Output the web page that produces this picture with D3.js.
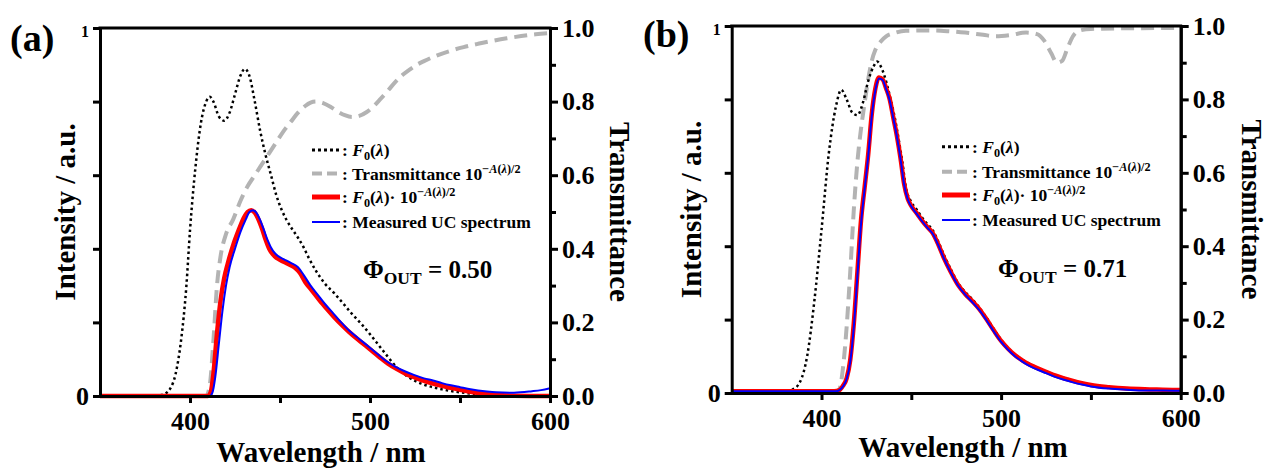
<!DOCTYPE html>
<html>
<head>
<meta charset="utf-8">
<script src="https://cdn.jsdelivr.net/npm/d3@7"></script>
<style>
  body { margin: 0; background: #fff; }
  svg text { font-family: "Liberation Serif", "Times New Roman", serif; font-weight: bold; fill: #000; white-space: pre; }
</style>
</head>
<body>
<div id="chart"></div>
<script>
// ---- data: [wavelength (nm), value] ----
// panel (a)
const f0A = [[350,0],[380,0],[385,0.004],[389,0.02],[392,0.06],[395,0.15],[398,0.3],[400,0.45],[403,0.62],[406,0.74],[409,0.8],[411,0.813],[413,0.8],[416,0.76],[419,0.748],[422,0.77],[425,0.82],[428,0.87],[430.5,0.889],[433,0.87],[436,0.8],[439,0.72],[442,0.655],[445,0.6],[448,0.545],[451,0.505],[454,0.475],[457,0.452],[460,0.43],[463,0.405],[466,0.375],[470,0.34],[475,0.305],[480,0.28],[485,0.252],[490,0.223],[495,0.197],[500,0.168],[505,0.137],[510,0.106],[515,0.077],[520,0.056],[525,0.041],[530,0.031],[540,0.018],[550,0.01],[560,0.005],[570,0.002],[600,0]];
const transA = [[350,0],[409,0],[411,0.03],[413,0.15],[415,0.3],[417,0.38],[420,0.44],[424,0.48],[428,0.53],[432,0.57],[436,0.6],[440,0.63],[444,0.66],[448,0.69],[452,0.72],[456,0.745],[460,0.77],[464,0.788],[467,0.797],[470,0.8],[474,0.796],[478,0.786],[482,0.773],[486,0.763],[490,0.758],[494,0.761],[498,0.771],[502,0.787],[506,0.808],[510,0.83],[514,0.853],[518,0.872],[522,0.887],[526,0.9],[530,0.91],[537,0.925],[544,0.937],[552,0.948],[560,0.957],[568,0.965],[576,0.972],[584,0.978],[592,0.983],[600,0.986]];
const prodA = [[350,0],[410,0],[411.5,0.01],[413,0.06],[415,0.17],[417,0.26],[419,0.32],[421,0.36],[424,0.41],[427,0.45],[430,0.485],[432,0.5],[434,0.505],[436,0.498],[438,0.48],[440,0.455],[442,0.425],[444,0.4],[447,0.38],[450,0.37],[454,0.36],[458,0.35],[461,0.335],[464,0.31],[468,0.285],[472,0.26],[476,0.237],[480,0.215],[485,0.19],[490,0.167],[495,0.147],[500,0.127],[505,0.107],[510,0.088],[515,0.073],[520,0.06],[525,0.05],[530,0.041],[535,0.034],[540,0.028],[545,0.022],[550,0.017],[555,0.012],[560,0.008],[570,0.003],[580,0.001],[600,0]];
const measA = [[350,0],[411,0],[412.5,0.01],[414,0.05],[416,0.14],[418,0.23],[420,0.3],[422,0.35],[425,0.4],[428,0.445],[431,0.48],[433,0.5],[435,0.505],[437,0.497],[439,0.478],[441,0.452],[443,0.425],[446,0.395],[449,0.38],[452,0.372],[456,0.362],[460,0.35],[463,0.33],[467,0.3],[471,0.275],[475,0.25],[479,0.228],[484,0.2],[489,0.175],[494,0.155],[499,0.135],[504,0.115],[509,0.095],[514,0.08],[519,0.068],[524,0.058],[530,0.048],[535,0.042],[540,0.035],[545,0.029],[550,0.024],[555,0.019],[560,0.015],[565,0.012],[570,0.01],[580,0.009],[590,0.013],[595,0.016],[600,0.021]];

// panel (b)
const f0B = [[350,0.005],[380,0.005],[384,0.01],[388,0.03],[392,0.1],[396,0.25],[400,0.444],[404,0.65],[408,0.78],[411,0.826],[414,0.8],[417,0.765],[420,0.757],[423,0.79],[426,0.85],[429,0.89],[431,0.903],[433,0.89],[435,0.865],[437,0.83],[439,0.79],[441,0.745],[443,0.69],[445,0.63],[447,0.56],[450,0.52],[453,0.5],[456,0.478],[459,0.46],[462,0.443],[465,0.413],[468,0.378],[472,0.337],[476,0.3],[480,0.275],[484,0.255],[488,0.232],[492,0.204],[496,0.174],[500,0.145],[504,0.122],[508,0.104],[512,0.09],[516,0.079],[520,0.069],[530,0.049],[540,0.034],[550,0.022],[560,0.016],[570,0.012],[580,0.01],[600,0.008]];
const transB = [[350,0],[408,0],[410,0.01],[412,0.07],[414,0.18],[416,0.33],[418,0.5],[420,0.63],[422,0.72],[424,0.79],[426,0.855],[428,0.905],[430,0.935],[433,0.958],[436,0.972],[440,0.98],[447,0.987],[460,0.988],[470,0.986],[480,0.982],[490,0.976],[497,0.972],[505,0.975],[514,0.982],[520,0.978],[524,0.96],[528,0.925],[531,0.9],[534,0.905],[537,0.94],[540,0.972],[544,0.988],[550,0.992],[600,0.995]];
const prodB = [[350,0.005],[407,0.005],[410,0.008],[412,0.02],[414,0.04],[416,0.09],[418,0.19],[420,0.33],[422,0.47],[424,0.56],[426,0.65],[428,0.76],[430,0.83],[432,0.86],[434,0.855],[436,0.83],[438,0.8],[440,0.75],[442,0.7],[444,0.64],[446,0.57],[448,0.53],[450,0.51],[453,0.49],[456,0.47],[459,0.452],[462,0.435],[465,0.405],[468,0.37],[472,0.33],[476,0.295],[480,0.27],[484,0.25],[488,0.228],[492,0.2],[496,0.17],[500,0.142],[504,0.12],[508,0.102],[512,0.088],[516,0.077],[520,0.068],[525,0.058],[530,0.048],[535,0.04],[540,0.033],[545,0.027],[550,0.022],[560,0.016],[570,0.012],[580,0.01],[590,0.009],[600,0.008]];
const measB = [[350,0.005],[408,0.005],[410,0.008],[412,0.018],[414,0.038],[416,0.085],[418,0.18],[420,0.32],[422,0.46],[424,0.555],[426,0.645],[428,0.755],[430,0.825],[432,0.857],[434,0.853],[436,0.828],[438,0.797],[440,0.748],[442,0.698],[444,0.638],[446,0.568],[448,0.528],[450,0.508],[453,0.488],[456,0.468],[459,0.45],[462,0.433],[465,0.403],[468,0.368],[472,0.328],[476,0.293],[480,0.268],[484,0.247],[488,0.225],[492,0.197],[496,0.167],[500,0.139],[504,0.117],[508,0.099],[512,0.085],[516,0.073],[520,0.064],[525,0.054],[530,0.044],[535,0.036],[540,0.029],[545,0.023],[550,0.018],[560,0.012],[570,0.009],[580,0.007],[590,0.007],[600,0.006]];

// ticks and labels
const xDomain = [350, 600];
const xTicksMajor = [400, 500, 600];
const xTicksMinor = [450, 550];
const leftTicks = [0, 0.2, 0.4, 0.6, 0.8, 1];
const leftLabelled = [0, 1];
const rightTicksMajor = [0, 0.2, 0.4, 0.6, 0.8, 1];
const rightTicksMinor = [0.1, 0.3, 0.5, 0.7, 0.9];
const panelLabels = ["(a)", "(b)"];
const qyValues = ["0.50", "0.71"];

// ---- layout of the two panels ----
const panels = [
  { label: panelLabels[0], qy: qyValues[0], f0: f0A, trans: transA, prod: prodA, meas: measA,
    left: 100, right: 550, top: 28, bottom: 396,
    labelX: 10, labelY: 51, xTitleX: 321, xTitleY: 462, yTitleX: 75, tTitleX: 610,
    legX: 312, legRows: [150, 173.5, 197, 222], qyX: 363, qyY: 278 },
  { label: panelLabels[1], qy: qyValues[1], f0: f0B, trans: transB, prod: prodB, meas: measB,
    left: 731.7, right: 1180.7, top: 26, bottom: 393,
    labelX: 643, labelY: 47, xTitleX: 963, xTitleY: 457, yTitleX: 701, tTitleX: 1242,
    legX: 942, legRows: [146.7, 171.7, 195, 220], qyX: 998, qyY: 277 }
];

const W = 1264, H = 468;
const svg = d3.select("#chart").append("svg").attr("width", W).attr("height", H);

// text with italic / sub / sup pieces
function richText(g, x, y, size, parts) {
  const t = g.append("text").attr("x", x).attr("y", y).style("font-size", size + "px");
  parts.forEach(p => {
    const off = p.sub ? size * 0.25 : p.sup ? -size * 0.38 : 0;
    const s = t.append("tspan").text(p.t)
      .attr("y", y + off)
      .style("font-size", (p.sub || p.sup ? size * 0.7 : size) + "px");
    if (p.it) s.style("font-style", "italic");
  });
  return t;
}

const f0Parts = [{ t: "F", it: 1 }, { t: "0", sub: 1 }, { t: "(" }, { t: "λ", it: 1 }, { t: ")" }];
const supParts = [{ t: "−", sup: 1 }, { t: "A", sup: 1, it: 1 }, { t: "(", sup: 1 }, { t: "λ", sup: 1, it: 1 }, { t: ")/2", sup: 1 }];
const legendItems = [
  { stroke: "#000", width: 3, dash: "3,3", parts: [{ t: ": " }, ...f0Parts] },
  { stroke: "#b3b3b3", width: 4, dash: "10,5", parts: [{ t: ": Transmittance 10" }, ...supParts] },
  { stroke: "#ff0000", width: 5, dash: null, parts: [{ t: ": " }, ...f0Parts, { t: "· 10" }, ...supParts] },
  { stroke: "#0000ff", width: 2, dash: null, parts: [{ t: ": Measured UC spectrum" }] }
];

function styleAxis(sel, fontSize) {
  sel.select(".domain").attr("stroke-width", 3).attr("stroke-linecap", "square");
  sel.selectAll(".tick line").attr("stroke-width", 3);
  sel.selectAll("text").style("font-size", fontSize + "px");
}

panels.forEach(p => {
  const x = d3.scaleLinear().domain(xDomain).range([p.left, p.right]);
  const y = d3.scaleLinear().domain([0, 1]).range([p.bottom, p.top]);
  const yT = d3.scaleLinear().domain([0, 1]).range([p.bottom, p.top]);
  const g = svg.append("g");

  const lineOn = sc => d3.line().x(d => x(d[0])).y(d => sc(d[1])).curve(d3.curveMonotoneX);

  // curves
  g.append("path").datum(p.trans).attr("d", lineOn(yT)).attr("fill", "none")
    .attr("stroke", "#b3b3b3").attr("stroke-width", 4).attr("stroke-dasharray", "13,7");
  g.append("path").datum(p.f0).attr("d", lineOn(y)).attr("fill", "none")
    .attr("stroke", "#000").attr("stroke-width", 2.5).attr("stroke-dasharray", "2.5,3");
  g.append("path").datum(p.prod).attr("d", lineOn(y)).attr("fill", "none")
    .attr("stroke", "#ff0000").attr("stroke-width", 4.5).attr("stroke-linejoin", "round");
  g.append("path").datum(p.meas).attr("d", lineOn(y)).attr("fill", "none")
    .attr("stroke", "#0000ff").attr("stroke-width", 2).attr("stroke-linejoin", "round");

  // top frame
  g.append("line").attr("x1", p.left).attr("x2", p.right).attr("y1", p.top).attr("y2", p.top)
    .attr("stroke", "#000").attr("stroke-width", 3).attr("stroke-linecap", "square");

  // bottom axis
  g.append("g").attr("transform", `translate(0,${p.bottom})`)
    .call(d3.axisBottom(x).tickValues(xTicksMinor).tickSize(7).tickSizeOuter(0).tickFormat(""))
    .call(s => styleAxis(s, 26));
  g.append("g").attr("transform", `translate(0,${p.bottom})`)
    .call(d3.axisBottom(x).tickValues(xTicksMajor).tickSize(7).tickSizeOuter(0).tickPadding(9).tickFormat(d3.format("d")))
    .call(s => styleAxis(s, 26));

  // left axis (intensity)
  const la = g.append("g").attr("transform", `translate(${p.left},0)`)
    .call(d3.axisLeft(y).tickValues(leftTicks).tickSize(7).tickSizeOuter(0).tickPadding(4)
      .tickFormat(d => leftLabelled.includes(d) ? d3.format("d")(d) : ""))
    .call(s => styleAxis(s, 26));
  la.selectAll(".tick text").filter(d => d === 1).style("font-size", "16px").attr("dy", "0.55em");

  // right axis (transmittance)
  g.append("g").attr("transform", `translate(${p.right},0)`)
    .call(d3.axisRight(yT).tickValues(rightTicksMinor).tickSize(6).tickSizeOuter(0).tickFormat(""))
    .call(s => styleAxis(s, 26));
  g.append("g").attr("transform", `translate(${p.right},0)`)
    .call(d3.axisRight(yT).tickValues(rightTicksMajor).tickSize(8).tickSizeOuter(0).tickPadding(4).tickFormat(d3.format(".1f")))
    .call(s => styleAxis(s, 26));

  // titles
  const midY = (p.top + p.bottom) / 2;
  g.append("text").attr("x", p.xTitleX).attr("y", p.xTitleY).attr("text-anchor", "middle")
    .style("font-size", "29px").text("Wavelength / nm");
  g.append("text").attr("transform", `translate(${p.yTitleX},${midY}) rotate(-90)`).attr("text-anchor", "middle")
    .style("font-size", "29px").text("Intensity / a.u.");
  g.append("text").attr("transform", `translate(${p.tTitleX},${midY}) rotate(90)`).attr("text-anchor", "middle")
    .style("font-size", "29px").text("Transmittance");
  g.append("text").attr("x", p.labelX).attr("y", p.labelY).style("font-size", "38px").text(p.label);

  // legend
  legendItems.forEach((it, i) => {
    const cy = p.legRows[i];
    const ln = g.append("line").attr("x1", p.legX).attr("x2", p.legX + 28).attr("y1", cy).attr("y2", cy)
      .attr("stroke", it.stroke).attr("stroke-width", it.width);
    if (it.dash) ln.attr("stroke-dasharray", it.dash);
    richText(g, p.legX + 30, cy + 6, 17.5, it.parts);
  });

  // quantum yield annotation
  richText(g, p.qyX, p.qyY, 25, [{ t: "Φ" }, { t: "OUT", sub: 1 }, { t: " = " + p.qy }]);
});
</script>
</body>
</html>
